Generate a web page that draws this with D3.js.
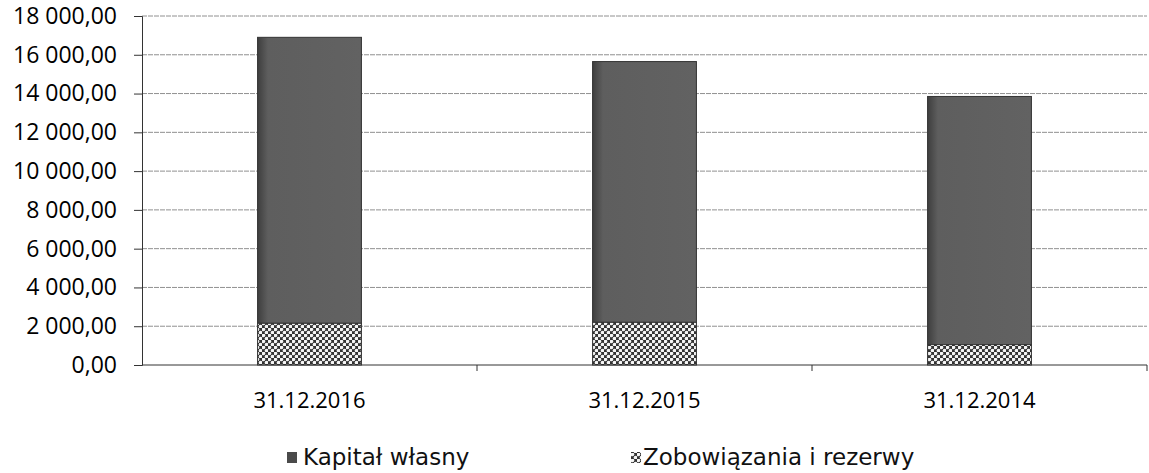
<!DOCTYPE html>
<html>
  <head>
    <meta charset="utf-8" />
    <script src="https://cdn.jsdelivr.net/npm/d3@7/dist/d3.min.js"></script>
    <style>
      body { margin: 0; background: #fff; }
    </style>
  </head>
  <body>
    <svg width="1149" height="473" id="mainsvg"></svg>
    <script>
      // dane
      const categories = ["31.12.2016", "31.12.2015", "31.12.2014"];
      const zobowiazania = [2150, 2200, 1050];
      const kapital = [14750, 13450, 12800];
      const yTicks = [0, 2000, 4000, 6000, 8000, 10000, 12000, 14000, 16000, 18000];
      const seriesNames = ["Kapitał własny", "Zobowiązania i rezerwy"];

      const svg = d3.select("#mainsvg");
      const margin = { left: 142, top: 16, right: 2, bottom: 108 };
      const width = +svg.attr("width");
      const height = +svg.attr("height");
      const innerWidth = width - margin.left - margin.right;
      const innerHeight = height - margin.top - margin.bottom;

      // wzór kratki
      const defs = svg.append("defs");
      const pat = defs.append("pattern")
        .attr("id", "hatch")
        .attr("patternUnits", "userSpaceOnUse")
        .attr("width", 6).attr("height", 6);
      pat.append("rect").attr("width", 6).attr("height", 6).attr("fill", "#333");
      pat.append("circle").attr("cx", 1.5).attr("cy", 1.5).attr("r", 1.8).attr("fill", "#f6f6f6");
      pat.append("circle").attr("cx", 4.5).attr("cy", 4.5).attr("r", 1.8).attr("fill", "#f6f6f6");

      const grad = defs.append("linearGradient").attr("id", "darkgrad");
      grad.append("stop").attr("offset", "0%").attr("stop-color", "#3e3e3e");
      grad.append("stop").attr("offset", "10%").attr("stop-color", "#5e5e5e");
      grad.append("stop").attr("offset", "100%").attr("stop-color", "#626262");

      const g = svg.append("g").attr("transform", `translate(${margin.left},${margin.top})`);

      const x = d3.scaleBand().domain(categories).range([0, innerWidth]).paddingInner(0.69).paddingOuter(0.345);
      const xb = d3.scaleBand().domain(categories).range([0, innerWidth]);
      const y = d3.scaleLinear().domain([0, 18000]).range([innerHeight, 0]);

      // siatka
      g.selectAll(".grid")
        .data(yTicks.filter((d) => d > 0))
        .join("line")
        .attr("class", "grid")
        .attr("x1", 0).attr("x2", innerWidth)
        .attr("y1", (d) => y(d)).attr("y2", (d) => y(d))
        .attr("stroke", "#909090")
        .attr("stroke-dasharray", "5,1")
        .attr("stroke-width", 1);

      // słupki
      const data = categories.map((c, i) => ({ cat: c, z: zobowiazania[i], k: kapital[i] }));

      g.selectAll(".barK")
        .data(data)
        .join("rect")
        .attr("class", "barK")
        .attr("x", (d) => x(d.cat))
        .attr("width", x.bandwidth())
        .attr("y", (d) => y(d.z + d.k))
        .attr("height", (d) => y(d.z) - y(d.z + d.k))
        .attr("fill", "url(#darkgrad)")
        .attr("stroke", "#333")
        .attr("stroke-width", 1);

      g.selectAll(".barZ")
        .data(data)
        .join("rect")
        .attr("class", "barZ")
        .attr("x", (d) => x(d.cat))
        .attr("width", x.bandwidth())
        .attr("y", (d) => y(d.z))
        .attr("height", (d) => y(0) - y(d.z))
        .attr("fill", "url(#hatch)")
        .attr("stroke", "#333")
        .attr("stroke-width", 1);

      // oś Y
      const yAxis = d3.axisLeft(y)
        .tickValues(yTicks)
        .tickSize(8)
        .tickFormat((d) => d3.format(",.2f")(d).replace(/,/g, " ").replace(".", ","));
      const ya = g.append("g").call(yAxis);
      ya.select(".domain").attr("stroke", "#333");
      ya.selectAll(".tick line").attr("stroke", "#333");
      ya.selectAll("text")
        .attr("x", -25)
        .attr("font-family", "'Open Sans', sans-serif")
        .attr("font-size", 23)
        .attr("fill", "#000");

      // oś X
      g.append("line")
        .attr("x1", 0).attr("x2", innerWidth)
        .attr("y1", innerHeight).attr("y2", innerHeight)
        .attr("stroke", "#333");
      g.selectAll(".xtick")
        .data(categories)
        .join("line")
        .attr("class", "xtick")
        .attr("x1", (d) => xb(d) + xb.bandwidth())
        .attr("x2", (d) => xb(d) + xb.bandwidth())
        .attr("y1", innerHeight).attr("y2", innerHeight + 6)
        .attr("stroke", "#333");
      g.selectAll(".xlabel")
        .data(categories)
        .join("text")
        .attr("class", "xlabel")
        .attr("x", (d) => xb(d) + xb.bandwidth() / 2)
        .attr("y", innerHeight + 43)
        .attr("text-anchor", "middle")
        .attr("font-family", "'Open Sans', sans-serif")
        .attr("font-size", 22)
        .attr("fill", "#000")
        .text((d) => d);

      // legenda
      const legendX = [287, 631];
      const legend = svg.selectAll(".legend")
        .data(seriesNames)
        .join("g")
        .attr("class", "legend")
        .attr("transform", (d, i) => `translate(${legendX[i]},465)`);
      legend.append("rect")
        .attr("x", 0).attr("y", -13)
        .attr("width", 10).attr("height", 11)
        .attr("fill", (d, i) => (i === 0 ? "#4a4a4a" : "url(#hatch)"));
      legend.append("text")
        .attr("x", (d, i) => (i === 0 ? 16 : 12))
        .attr("y", 0)
        .attr("font-family", "'DejaVu Sans', sans-serif")
        .attr("font-size", 23)
        .attr("fill", "#111")
        .text((d) => d);
    </script>
  </body>
</html>
